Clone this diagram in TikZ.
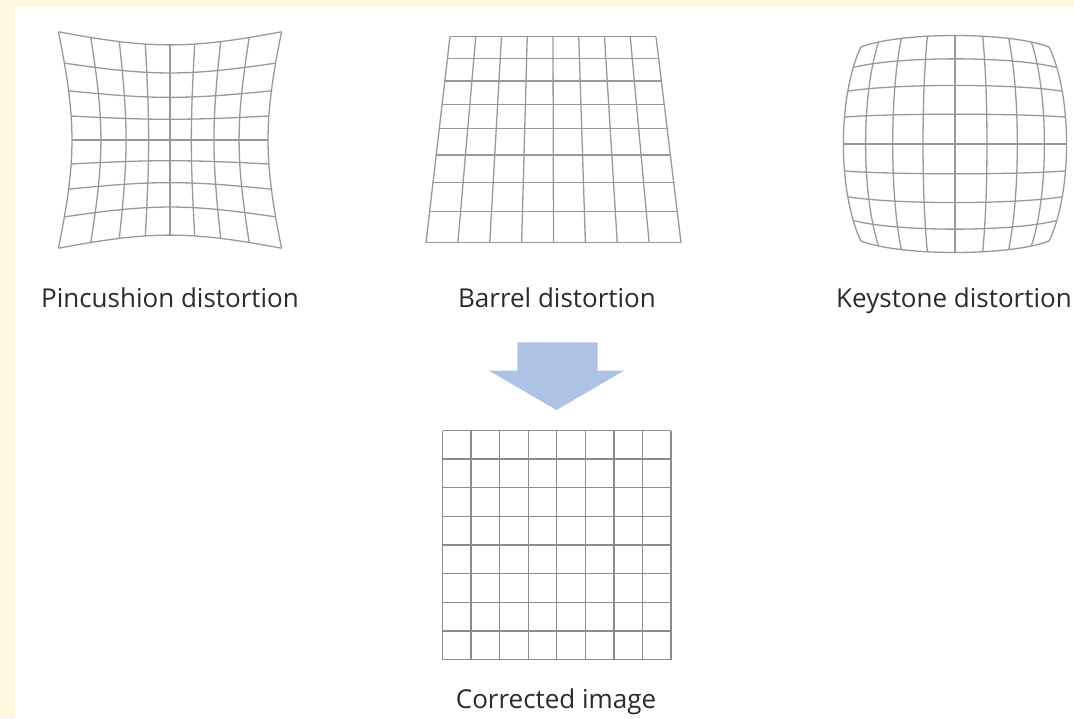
\documentclass[tikz,border=0pt]{standalone}
\usepackage{fontspec}
\setmainfont{Open Sans}
\usetikzlibrary{calc}
\definecolor{pagecream}{HTML}{FFF8E1}
\definecolor{gridgray}{HTML}{999999}
\definecolor{gridgraydark}{HTML}{8C8C8C}
\definecolor{arrowblue}{HTML}{AEC2E6}
\definecolor{labeltext}{HTML}{2B2B2B}
\tikzset{
  gridline/.style={draw=gridgray, line width=1.3pt},
  flatgrid/.style={draw=gridgraydark, line width=1.3pt},
  caption/.style={anchor=base, text=labeltext, inner sep=0pt,
    font=\fontsize{26}{31}\selectfont},
  bigarrow/.style={fill=arrowblue, draw=none},
}
\begin{document}
\begin{tikzpicture}[x=1pt, y=-1pt]
\useasboundingbox (0,0) rectangle (1074,718);
% page background and white panel
\fill[pagecream] (0,0) rectangle (1074,718);
\fill[white] (15,7) rectangle (1074,718);

% ---- pincushion grid: radial stretch outward ----
\foreach \u in {-1,-0.75,-0.5,-0.25,0,0.25,0.5,0.75,1}{
  \draw[gridline] plot[domain=-1:1, samples=25, smooth, variable=\t]
    ({170+84.5*(\u)*(1+0.16*((\u)*(\u)+(\t)*(\t)))},
     {140+82*(\t)*(1+0.16*((\u)*(\u)+(\t)*(\t)))});
  \draw[gridline] plot[domain=-1:1, samples=25, smooth, variable=\t]
    ({170+84.5*(\t)*(1+0.16*((\u)*(\u)+(\t)*(\t)))},
     {140+82*(\u)*(1+0.16*((\u)*(\u)+(\t)*(\t)))});
}
\node[caption] (pinlabel) at (170,307) {Pincushion distortion};

% ---- trapezoid grid ----
\coordinate (TL) at (450,36.7);
\coordinate (TR) at (656,36.7);
\coordinate (BL) at (426,242.7);
\coordinate (BR) at (681,242.7);
\foreach \f in {0,0.105,0.215,0.328,0.445,0.574,0.707,0.850,1}{
  \draw[gridline] ($(TL)!\f!(BL)$) -- ($(TR)!\f!(BR)$);
}
\foreach \i in {0,...,8}{
  \draw[gridline] ($(TL)!\i/8!(TR)$) -- ($(BL)!\i/8!(BR)$);
}
\node[caption] (barlabel) at (557,307) {Barrel distortion};

% ---- bulging grid: radial squeeze inward ----
\foreach \u in {-1,-0.75,-0.5,-0.25,0,0.25,0.5,0.75,1}{
  \draw[gridline] plot[domain=-1:1, samples=25, smooth, variable=\t]
    ({955+129*(\u)*(1-0.135*((\u)*(\u)+(\t)*(\t)))},
     {144+120*(\t)*(1-0.096*((\u)*(\u)+(\t)*(\t)))});
  \draw[gridline] plot[domain=-1:1, samples=25, smooth, variable=\t]
    ({955+129*(\t)*(1-0.135*((\u)*(\u)+(\t)*(\t)))},
     {144+120*(\u)*(1-0.096*((\u)*(\u)+(\t)*(\t)))});
}
\node[caption] (keylabel) at (954,307) {Keystone distortion};

% ---- block arrow ----
\fill[bigarrow] (517.3,342.3) -- (597.7,342.3) -- (597.7,370.7) -- (624,370.7)
  -- (556.5,410) -- (489,370.7) -- (517.3,370.7) -- cycle;

% ---- corrected square grid ----
\foreach \i in {0,...,8}{
  \draw[flatgrid] ({442.5+\i*28.5625},430.5) -- ({442.5+\i*28.5625},659.5);
  \draw[flatgrid] (442.5,{430.5+\i*28.625}) -- (671,{430.5+\i*28.625});
}
\node[caption] (corlabel) at (556,708) {Corrected image};
\end{tikzpicture}
\end{document}
